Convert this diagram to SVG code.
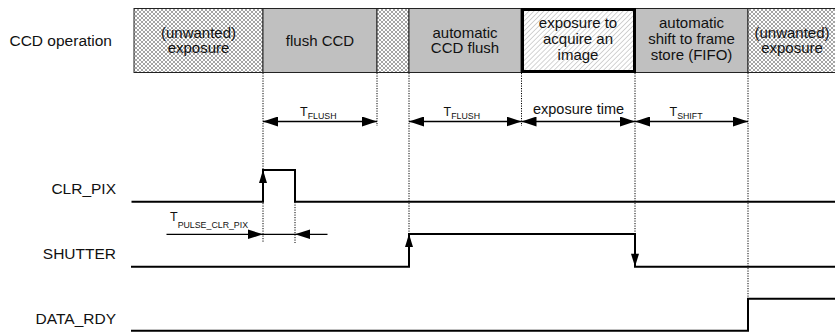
<svg xmlns="http://www.w3.org/2000/svg" width="835" height="333" viewBox="0 0 835 333">
<style>
text{font-family:"Liberation Sans",Arial,sans-serif;fill:#111}
.lbl{font-size:15.5px;text-anchor:end}
.bt{font-size:15px;text-anchor:middle}
.T{font-size:12.5px}
.sub{font-size:8.8px}
.box{stroke:#222;stroke-width:1}
.gray{fill:#c0c0c0}
.xh{fill:url(#xhatch)}
.sig{fill:none;stroke:#000;stroke-width:2}
.dot{stroke:#000;stroke-width:1;stroke-dasharray:1.2,1.3;fill:none}
.dim{stroke:#000;stroke-width:1.3;fill:none;marker-start:url(#dh);marker-end:url(#dh)}
</style>
<defs>
<pattern id="xhatch" patternUnits="userSpaceOnUse" width="4" height="4">
<rect width="4" height="4" fill="#fff"/>
<path d="M0,0L4,4M4,0L0,4" stroke="#8e8e8e" stroke-width="0.8"/>
</pattern>
<pattern id="dhatch" patternUnits="userSpaceOnUse" width="3.5" height="3.5" patternTransform="rotate(45)">
<rect width="3.5" height="3.5" fill="#fff"/>
<line x1="0" y1="0" x2="0" y2="3.5" stroke="#a8a8a8" stroke-width="1"/>
</pattern>
<marker id="dh" markerUnits="userSpaceOnUse" markerWidth="16" markerHeight="10" refX="15" refY="5" orient="auto-start-reverse">
<path d="M0,0L15,5L0,10Z" fill="#000"/>
</marker>
</defs>
<rect width="835" height="333" fill="#fff"/>

<text class="lbl" x="112" y="45.5">CCD operation</text>

<g id="box-unwanted1">
<rect class="box xh" x="134" y="8.5" width="129" height="64"/>
<text class="bt" x="198.5" y="37.5">(unwanted)</text>
<text class="bt" x="198.5" y="53">exposure</text>
</g>
<g id="box-flush">
<rect class="box gray" x="263" y="8.5" width="114" height="64"/>
<text class="bt" x="320" y="45.5">flush CCD</text>
</g>
<g id="box-unwanted2">
<rect class="box xh" x="377" y="8.5" width="32" height="64"/>
</g>
<g id="box-autoflush">
<rect class="box gray" x="409" y="8.5" width="112" height="64"/>
<text class="bt" x="465" y="37.5">automatic</text>
<text class="bt" x="465" y="53">CCD flush</text>
</g>
<g id="box-shift">
<rect class="box gray" x="635" y="8.5" width="113" height="64"/>
<text class="bt" x="691.5" y="28">automatic</text>
<text class="bt" x="691.5" y="44">shift to frame</text>
<text class="bt" x="691.5" y="60">store (FIFO)</text>
</g>
<g id="box-unwanted3">
<rect class="box xh" x="748" y="8.5" width="90" height="64"/>
<text class="bt" x="792" y="37.5">(unwanted)</text>
<text class="bt" x="792" y="53">exposure</text>
</g>
<g id="box-exposure">
<rect x="522.5" y="9.5" width="112" height="62" fill="url(#dhatch)" stroke="#000" stroke-width="3"/>
<text class="bt" x="578" y="28">exposure to</text>
<text class="bt" x="578" y="44">acquire an</text>
<text class="bt" x="578" y="60">image</text>
</g>

<g id="connectors">
<line class="dot" x1="263" y1="73" x2="263" y2="243"/>
<line class="dot" x1="295" y1="202" x2="295" y2="243"/>
<line class="dot" x1="377" y1="73" x2="377" y2="126"/>
<line class="dot" x1="409" y1="73" x2="409" y2="234"/>
<line class="dot" x1="521.5" y1="73" x2="521.5" y2="126"/>
<line class="dot" x1="635" y1="73" x2="635" y2="234"/>
<line class="dot" x1="748" y1="73" x2="748" y2="299"/>
<line class="dim" x1="263" y1="121.5" x2="377" y2="121.5"/>
<line class="dim" x1="409" y1="121.5" x2="521.5" y2="121.5"/>
<line class="dim" x1="521.5" y1="121.5" x2="635" y2="121.5"/>
<line class="dim" x1="635" y1="121.5" x2="748" y2="121.5"/>
<line x1="166.5" y1="234.3" x2="327.5" y2="234.3" stroke="#000" stroke-width="1.3"/>
<path d="M248,229.5L263,234.3L248,239.1Z" fill="#000"/>
<path d="M310,229.5L295,234.3L310,239.1Z" fill="#000"/>
</g>

<g id="dim-labels">
<text x="300" y="115.5"><tspan class="T">T</tspan><tspan class="sub" dy="3.5">FLUSH</tspan></text>
<text x="443.5" y="115.5"><tspan class="T">T</tspan><tspan class="sub" dy="3.5">FLUSH</tspan></text>
<text x="578.5" y="113.5" style="font-size:14.5px;text-anchor:middle">exposure time</text>
<text x="669.5" y="115.5"><tspan class="T">T</tspan><tspan class="sub" dy="3.5">SHIFT</tspan></text>
<text x="170" y="221"><tspan class="T">T</tspan><tspan class="sub" dy="6.5">PULSE_CLR_PIX</tspan></text>
</g>

<g id="sig-clr-pix">
<text class="lbl" x="116" y="194.3">CLR_PIX</text>
<path class="sig" d="M131.5,201.7H263V170H295V201.7H835"/>
<path d="M259,183L263,170L267,183Z" fill="#000"/>
</g>
<g id="sig-shutter">
<text class="lbl" x="116" y="259">SHUTTER</text>
<path class="sig" d="M131,266.7H409V234H635V266.7H835"/>
<path d="M405,247L409,234L413,247Z" fill="#000"/>
<path d="M631,253.7L635,266.7L639,253.7Z" fill="#000"/>
</g>
<g id="sig-data-rdy">
<text class="lbl" x="116" y="324">DATA_RDY</text>
<path class="sig" d="M131,330.7H748V298.7H835"/>
</g>
</svg>
